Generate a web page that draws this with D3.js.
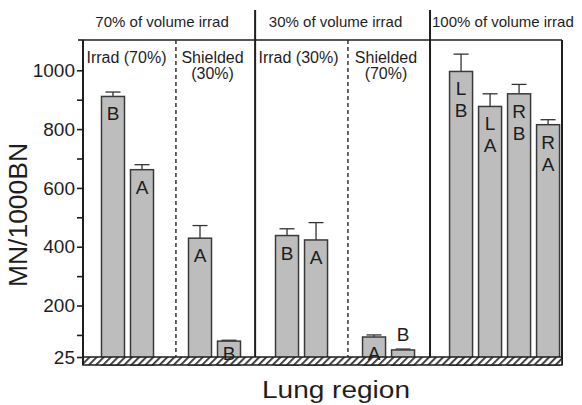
<!DOCTYPE html>
<html>
<head>
<meta charset="utf-8">
<script src="https://cdn.jsdelivr.net/npm/d3@7"></script>
<style>
  html, body { margin: 0; padding: 0; background: #fff; }
  svg { display: block; font-family: "Liberation Sans", Arial, sans-serif; }
</style>
</head>
<body>
<svg id="chart" width="582" height="405"></svg>
<script>
// ---- data ----
const barSlots   = [0, 1, 3, 4, 6, 7, 9, 10, 12, 13, 14, 15];
const barLabels  = ["B", "A", "A", "B", "B", "A", "A", "B", "LB", "LA", "RB", "RA"];
const barValues  = [911, 662, 429, 79, 438, 423, 93, 49, 996, 877, 920, 815];
const barErrTop  = [926, 679, 472, 82, 461, 482, 100, 52, 1055, 920, 952, 832];
const labelPlace = ["in", "in", "in", "in", "in", "in", "in", "above", "in", "in", "in", "in"];
const yTicks      = [25, 200, 400, 600, 800, 1000];
const yMinorTicks = [100, 300, 500, 700, 900];
const sectionTitles = ["70% of volume irrad", "30% of volume irrad", "100% of volume irrad"];
const subTitles = [["Irrad (70%)"], ["Shielded", "(30%)"], ["Irrad (30%)"], ["Shielded", "(70%)"]];
const solidDividers  = [4.9, 10.93];
const dashedDividers = [2.17, 8.1];
const slotEdges = [-1.034, 15.48];

// ---- layout ----
const svg = d3.select("#chart");
const ink = "#1e1e1e";
const plotTop = 40, baseY = 357, bandH = 8;

const x = d3.scaleLinear().domain(slotEdges).range([83, 562]);
const y = d3.scaleLinear().domain([25, 1103]).range([baseY, plotTop]);
const barW = 23;

// hatch pattern
const defs = svg.append("defs");
const pat = defs.append("pattern")
  .attr("id", "hatch").attr("patternUnits", "userSpaceOnUse")
  .attr("width", 5).attr("height", 5)
  .attr("patternTransform", "rotate(45)");
pat.append("rect").attr("width", 5).attr("height", 5).attr("fill", "#fff");
pat.append("rect").attr("width", 1.8).attr("height", 5).attr("fill", "#333");

// section dividers and frame
const xL = x(slotEdges[0]), xR = x(slotEdges[1]);
svg.append("line").attr("x1", xL).attr("x2", xR).attr("y1", plotTop).attr("y2", plotTop)
  .attr("stroke", ink).attr("stroke-width", 1.6);
svg.append("line").attr("x1", xR).attr("x2", xR).attr("y1", plotTop).attr("y2", baseY + bandH)
  .attr("stroke", ink).attr("stroke-width", 2);
svg.selectAll(".solid").data(solidDividers).join("line")
  .attr("x1", d => x(d)).attr("x2", d => x(d))
  .attr("y1", 10).attr("y2", baseY + bandH)
  .attr("stroke", ink).attr("stroke-width", 2);
svg.selectAll(".dashed").data(dashedDividers).join("line")
  .attr("x1", d => x(d)).attr("x2", d => x(d))
  .attr("y1", plotTop).attr("y2", baseY)
  .attr("stroke", "#333").attr("stroke-width", 1.5)
  .attr("stroke-dasharray", "4,3");

// bars
const bars = barValues.map((v, i) => ({ v, slot: barSlots[i], lab: barLabels[i], err: barErrTop[i], place: labelPlace[i] }));

svg.selectAll(".err").data(bars).join("line")
  .attr("x1", d => x(d.slot)).attr("x2", d => x(d.slot))
  .attr("y1", d => y(d.v)).attr("y2", d => y(d.err))
  .attr("stroke", "#333").attr("stroke-width", 1.3);
svg.selectAll(".cap").data(bars).join("line")
  .attr("x1", d => x(d.slot) - 7.5).attr("x2", d => x(d.slot) + 7.5)
  .attr("y1", d => y(d.err)).attr("y2", d => y(d.err))
  .attr("stroke", "#333").attr("stroke-width", 1.3);

svg.selectAll(".bar").data(bars).join("rect")
  .attr("x", d => x(d.slot) - barW / 2)
  .attr("width", barW)
  .attr("y", d => y(d.v))
  .attr("height", d => baseY + bandH - y(d.v))
  .attr("fill", "#bdbdbd").attr("stroke", "#3a3a3a").attr("stroke-width", 1.5);

// hatched band
svg.append("rect").attr("x", xL).attr("y", baseY).attr("width", xR - xL).attr("height", bandH)
  .attr("fill", "url(#hatch)").attr("stroke", ink).attr("stroke-width", 1.5);

// bar letters
const letterG = svg.append("g").attr("font-size", 19).attr("fill", ink).attr("text-anchor", "middle");
bars.forEach(d => {
  const chars = d.lab.split("");
  chars.forEach((c, k) => {
    let by;
    if (d.place === "above") by = y(d.err) - 8;
    else by = Math.min(y(d.v) + 24, baseY + 3) + k * 22;
    letterG.append("text").attr("x", x(d.slot)).attr("y", by).text(c);
  });
});

// y axis
const axisG = svg.append("g").attr("transform", `translate(${xL},0)`);
axisG.call(d3.axisLeft(y).tickValues(yTicks).tickSize(6).tickPadding(2).tickSizeOuter(0).tickFormat(d3.format("d")));
axisG.append("g").call(d3.axisLeft(y).tickValues(yMinorTicks).tickSize(6).tickFormat("").tickSizeOuter(0));
axisG.selectAll(".domain").remove();
axisG.selectAll("line").attr("stroke", ink).attr("stroke-width", 1.6);
axisG.selectAll("text").attr("font-size", 19).attr("fill", ink)
  .attr("font-family", "'Liberation Sans', Arial, sans-serif");
axisG.append("line").attr("x1", 0).attr("x2", 0).attr("y1", plotTop).attr("y2", baseY + bandH)
  .attr("stroke", ink).attr("stroke-width", 2);
axisG.append("line").attr("x1", -5).attr("x2", 0).attr("y1", plotTop).attr("y2", plotTop)
  .attr("stroke", ink).attr("stroke-width", 1.6);

// section headers
const headerX = [(xL + x(solidDividers[0])) / 2, (x(solidDividers[0]) + x(solidDividers[1])) / 2];
svg.append("g").attr("font-size", 15).attr("fill", ink)
  .selectAll("text").data(sectionTitles).join("text")
  .attr("x", (d, i) => i < 2 ? headerX[i] - 7 : x(solidDividers[1]) + 2)
  .attr("text-anchor", (d, i) => i < 2 ? "middle" : "start")
  .attr("y", 27)
  .text(d => d);

// sub headers
const subBounds = [xL, x(dashedDividers[0]), x(solidDividers[0]), x(dashedDividers[1]), x(solidDividers[1])];
const subG = svg.append("g").attr("font-size", 16).attr("fill", ink).attr("text-anchor", "middle");
subTitles.forEach((lines, i) => {
  const cx = (subBounds[i] + subBounds[i + 1]) / 2 - 3;
  lines.forEach((t, k) => {
    subG.append("text").attr("x", cx).attr("y", 63 + k * 16).text(t);
  });
});

// axis titles
svg.append("text")
  .attr("transform", "translate(27,215) rotate(-90)")
  .attr("text-anchor", "middle").attr("font-size", 25).attr("fill", ink)
  .attr("textLength", 144).attr("lengthAdjust", "spacingAndGlyphs")
  .text("MN/1000BN");
svg.append("text")
  .attr("x", 262).attr("y", 398)
  .attr("font-size", 23).attr("fill", ink)
  .attr("textLength", 148).attr("lengthAdjust", "spacingAndGlyphs")
  .text("Lung region");
</script>
</body>
</html>
